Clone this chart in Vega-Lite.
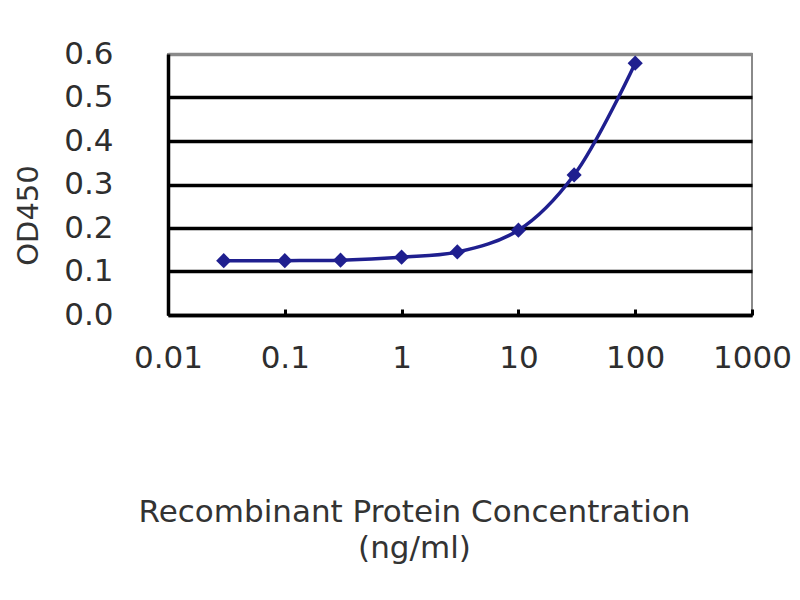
{
  "$schema": "https://vega.github.io/schema/vega-lite/v6.json",
  "width": 584,
  "height": 261,
  "autosize": "none",
  "padding": {"left": 168, "top": 54, "right": 48, "bottom": 285},
  "background": "white",
  "data": {
    "values": [
      {"conc": 0.03, "od": 0.125},
      {"conc": 0.1, "od": 0.125},
      {"conc": 0.3, "od": 0.126},
      {"conc": 1, "od": 0.133},
      {"conc": 3, "od": 0.145},
      {"conc": 10, "od": 0.195},
      {"conc": 30, "od": 0.322},
      {"conc": 100, "od": 0.579}
    ]
  },
  "encoding": {
    "x": {
      "field": "conc",
      "type": "quantitative",
      "scale": {"type": "log", "domain": [0.01, 1000], "nice": false},
      "axis": {
        "values": [0.01, 0.1, 1, 10, 100, 1000],
        "format": "~g",
        "grid": false,
        "domainColor": "black",
        "domainWidth": 3.5,
        "ticks": true,
        "tickSize": -6,
        "tickWidth": 3,
        "tickColor": "black",
        "labelFont": "DejaVu Sans",
        "labelFontSize": 31,
        "labelColor": "#2e2e2e",
        "labelPadding": 34,
        "labelFlush": false,
        "labelOverlap": false,
        "title": ["Recombinant Protein Concentration", "(ng/ml)"],
        "titleFont": "DejaVu Sans",
        "titleFontSize": 31,
        "titleFontWeight": "normal",
        "titleColor": "#333333",
        "titleAnchor": "start",
        "titleAlign": "center",
        "titleBaseline": "alphabetic",
        "titleX": 246,
        "titleY": 206,
        "titleLineHeight": 36
      }
    },
    "y": {
      "field": "od",
      "type": "quantitative",
      "scale": {"domain": [0, 0.6], "nice": false},
      "axis": {
        "values": [0, 0.1, 0.2, 0.3, 0.4, 0.5, 0.6],
        "format": ".1f",
        "grid": true,
        "gridColor": {"condition": {"test": "datum.value >= 0.55", "value": "#8a8a8a"}, "value": "black"},
        "gridWidth": 3.5,
        "domainColor": "black",
        "domainWidth": 3.5,
        "ticks": false,
        "labelFont": "DejaVu Sans",
        "labelFontSize": 31,
        "labelColor": "#2e2e2e",
        "labelPadding": 55,
        "labelFlush": false,
        "labelOverlap": false,
        "title": "OD450",
        "titleFont": "DejaVu Sans",
        "titleFontSize": 29,
        "titleFontWeight": "normal",
        "titleColor": "#333333",
        "titleAngle": -90,
        "titleAlign": "center",
        "titleBaseline": "middle",
        "titleX": -140,
        "titleY": 161
      }
    }
  },
  "layer": [
    {
      "mark": {"type": "line", "color": "#1f1f8f", "strokeWidth": 3.5, "interpolate": "catmull-rom"}
    },
    {
      "mark": {"type": "point", "shape": "diamond", "filled": true, "color": "#1f1f8f", "size": 230, "opacity": 1}
    }
  ],
  "config": {
    "view": {"stroke": "#8a8a8a", "strokeWidth": 2}
  }
}
